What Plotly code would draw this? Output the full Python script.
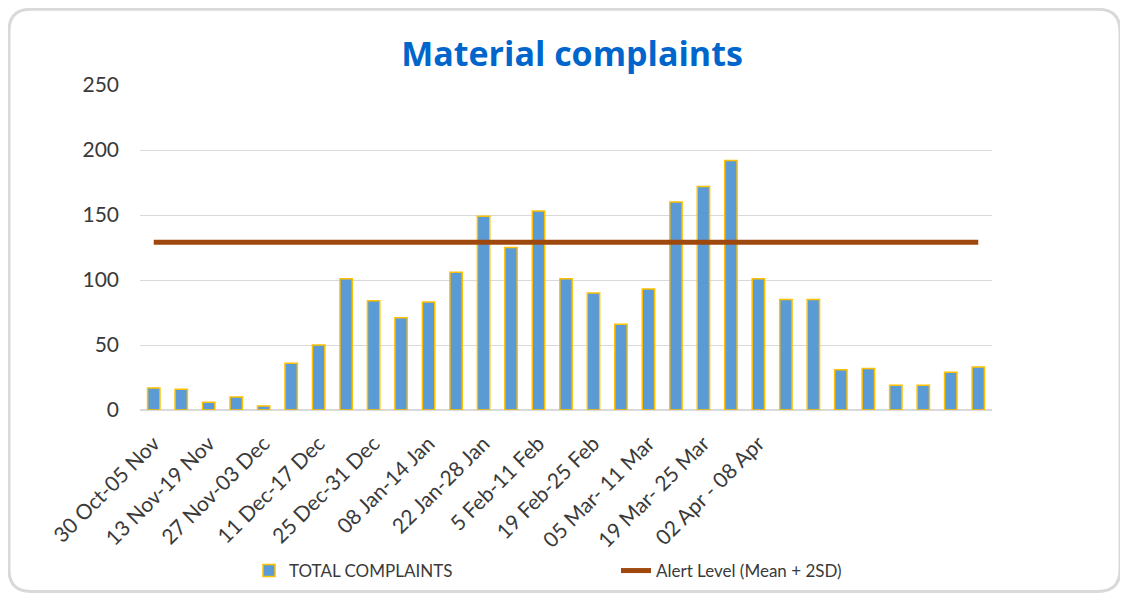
import plotly.graph_objects as go

# ---- data ----
week_index = list(range(31))
total_complaints = [17, 16, 6, 10, 3, 36, 50, 101, 84, 71, 83, 106, 149, 125, 153, 101,
                    90, 66, 93, 160, 172, 192, 101, 85, 85, 31, 32, 19, 19, 29, 33]
alert_level = [129, 129, 129, 129, 129, 129, 129, 129, 129, 129, 129, 129, 129, 129, 129, 129,
               129, 129, 129, 129, 129, 129, 129, 129, 129, 129, 129, 129, 129, 129, 129]
tick_positions = [0, 2, 4, 6, 8, 10, 12, 14, 16, 18, 20, 22]
tick_labels = ["30 Oct-05 Nov", "13 Nov-19 Nov", "27 Nov-03 Dec", "11 Dec-17 Dec",
               "25 Dec-31 Dec", "08 Jan-14 Jan", "22 Jan-28 Jan", "5 Feb-11 Feb",
               "19 Feb-25 Feb", "05 Mar- 11 Mar", "19 Mar- 25 Mar", "02 Apr - 08 Apr"]

# page body has an 8px margin, so the figure is sized to fit the window
W, H = 1120, 592
L, T = 132, 77
PW, PH = 852, 326
R, B = W - L - PW, H - T - PH

FONT = "Lato"
TXT = "#3A3A3A"

fig = go.Figure()
fig.add_trace(go.Bar(
    x=week_index, y=total_complaints, name="TOTAL COMPLAINTS",
    marker=dict(color="#5B9BD5", line=dict(color="#FFC000", width=1.5)),
    width=0.45,
))
fig.add_trace(go.Scatter(
    x=week_index, y=alert_level, mode="lines", name="Alert Level (Mean + 2SD)",
    line=dict(color="#9E480E", width=5),
))

# rounded outer border (div pixel coords converted to paper coords)
def P(px, py):
    return f"{(px - L) / PW:.5f},{(T + PH - py) / PH:.5f}"

x0, y0, x1, y1, r = 1, 1, 1112, 585, 22
path = (f"M {P(x0 + r, y0)} L {P(x1 - r, y0)} Q {P(x1, y0)} {P(x1, y0 + r)} "
        f"L {P(x1, y1 - r)} Q {P(x1, y1)} {P(x1 - r, y1)} "
        f"L {P(x0 + r, y1)} Q {P(x0, y1)} {P(x0, y1 - r)} "
        f"L {P(x0, y0 + r)} Q {P(x0, y0)} {P(x0 + r, y0)} Z")
fig.add_shape(type="path", path=path, xref="paper", yref="paper",
              line=dict(color="#D9D9D9", width=3), layer="below")

fig.update_layout(
    width=W, height=H,
    margin=dict(l=L, r=R, t=T, b=B),
    paper_bgcolor="white", plot_bgcolor="white",
    font=dict(family=FONT, color=TXT),
    title=dict(text="<b>Material complaints</b>", x=(564 - L) / PW, xref="paper",
               xanchor="center", y=1 - 46 / H, yanchor="middle",
               font=dict(family="Open Sans", size=34, color="#0066CC")),
    bargap=0.55,
    showlegend=True,
    legend=dict(orientation="h", x=(241 - L) / PW, xanchor="left",
                y=(T + PH - 563) / PH, yanchor="middle",
                font=dict(family=FONT, size=17, color=TXT),
                entrywidth=322, entrywidthmode="pixels",
                bgcolor="rgba(0,0,0,0)"),
    xaxis=dict(range=[-0.5, 30.5], tickmode="array", tickvals=tick_positions,
               ticktext=tick_labels, tickangle=-45, showgrid=False,
               tickfont=dict(family=FONT, size=21, color=TXT),
               ticklabelstandoff=12,
               showline=True, linecolor="#D9D9D9", linewidth=1, ticks=""),
    yaxis=dict(range=[0, 250], tickvals=[0, 50, 100, 150, 200, 250],
               showgrid=True, gridcolor="#D9D9D9", gridwidth=1,
               zeroline=True, zerolinecolor="#D9D9D9",
               tickfont=dict(family=FONT, size=21, color=TXT),
               ticklabelstandoff=20,
               ticks="", ticklen=0, showline=False),
)

fig.write_html("out.html")
